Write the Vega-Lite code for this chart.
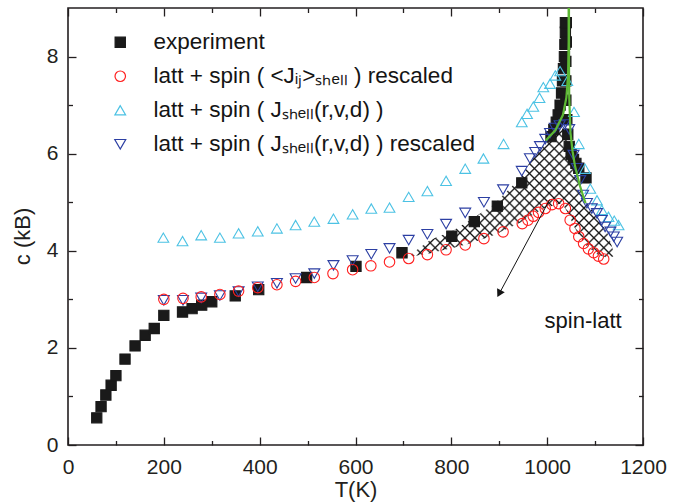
{
  "$schema": "https://vega.github.io/schema/vega-lite/v6.json",
  "width": 575,
  "height": 437,
  "autosize": {"type": "none"},
  "padding": {"left": 68, "top": 8, "right": 36, "bottom": 57},
  "background": "white",
  "datasets": {
    "hatch": [
      {"T": 705, "up": 3.85, "lo": 3.85},
      {"T": 717, "up": 3.94, "lo": 3.88},
      {"T": 756, "up": 4.22, "lo": 3.95},
      {"T": 804, "up": 4.42, "lo": 4.06},
      {"T": 839, "up": 4.63, "lo": 4.15},
      {"T": 888, "up": 4.95, "lo": 4.32},
      {"T": 944, "up": 5.5, "lo": 4.58},
      {"T": 964, "up": 5.83, "lo": 4.7},
      {"T": 992, "up": 6.17, "lo": 4.87},
      {"T": 1031, "up": 6.52, "lo": 4.98},
      {"T": 1045, "up": 6.2, "lo": 4.75},
      {"T": 1055, "up": 5.85, "lo": 4.52},
      {"T": 1069, "up": 5.38, "lo": 4.28},
      {"T": 1079, "up": 5.04, "lo": 4.13},
      {"T": 1104, "up": 4.7, "lo": 3.93},
      {"T": 1126, "up": 4.36, "lo": 3.85},
      {"T": 1138, "up": 4.0, "lo": 3.88}
    ],
    "pts": [
      {"s": "exp", "T": 60, "c": 0.56}, {"s": "exp", "T": 69, "c": 0.79}, {"s": "exp", "T": 79, "c": 1.03},
      {"s": "exp", "T": 90, "c": 1.23}, {"s": "exp", "T": 100, "c": 1.43}, {"s": "exp", "T": 119, "c": 1.77},
      {"s": "exp", "T": 140, "c": 2.04}, {"s": "exp", "T": 161, "c": 2.26}, {"s": "exp", "T": 180, "c": 2.4},
      {"s": "exp", "T": 200, "c": 2.67}, {"s": "exp", "T": 239, "c": 2.74}, {"s": "exp", "T": 259, "c": 2.81},
      {"s": "exp", "T": 279, "c": 2.88}, {"s": "exp", "T": 300, "c": 2.95}, {"s": "exp", "T": 349, "c": 3.07},
      {"s": "exp", "T": 398, "c": 3.2}, {"s": "exp", "T": 498, "c": 3.45}, {"s": "exp", "T": 601, "c": 3.68},
      {"s": "exp", "T": 697, "c": 3.96}, {"s": "exp", "T": 801, "c": 4.3}, {"s": "exp", "T": 848, "c": 4.6},
      {"s": "exp", "T": 896, "c": 4.92}, {"s": "exp", "T": 947, "c": 5.4}, {"s": "exp", "T": 1008, "c": 6.35},
      {"s": "exp", "T": 1014, "c": 6.5}, {"s": "exp", "T": 1019, "c": 6.65}, {"s": "exp", "T": 1023, "c": 6.8},
      {"s": "exp", "T": 1027, "c": 7.0}, {"s": "exp", "T": 1030, "c": 7.25}, {"s": "exp", "T": 1032, "c": 7.5},
      {"s": "exp", "T": 1034, "c": 7.75}, {"s": "exp", "T": 1036, "c": 8.0}, {"s": "exp", "T": 1037, "c": 8.25},
      {"s": "exp", "T": 1038, "c": 8.5}, {"s": "exp", "T": 1038, "c": 8.7}, {"s": "exp", "T": 1040, "c": 8.7},
      {"s": "exp", "T": 1040, "c": 8.3}, {"s": "exp", "T": 1039, "c": 7.9}, {"s": "exp", "T": 1039, "c": 7.5},
      {"s": "exp", "T": 1039, "c": 7.1}, {"s": "exp", "T": 1041, "c": 6.7}, {"s": "exp", "T": 1043, "c": 6.4},
      {"s": "exp", "T": 1046, "c": 6.15}, {"s": "exp", "T": 1050, "c": 5.98}, {"s": "exp", "T": 1055, "c": 5.88},
      {"s": "exp", "T": 1060, "c": 5.8}, {"s": "exp", "T": 1066, "c": 5.7}, {"s": "exp", "T": 1081, "c": 5.5},
      {"s": "js", "T": 199, "c": 4.27}, {"s": "js", "T": 239, "c": 4.2}, {"s": "js", "T": 278, "c": 4.32},
      {"s": "js", "T": 317, "c": 4.27}, {"s": "js", "T": 356, "c": 4.36}, {"s": "js", "T": 396, "c": 4.4},
      {"s": "js", "T": 436, "c": 4.46}, {"s": "js", "T": 475, "c": 4.53}, {"s": "js", "T": 514, "c": 4.6},
      {"s": "js", "T": 554, "c": 4.66}, {"s": "js", "T": 594, "c": 4.75}, {"s": "js", "T": 633, "c": 4.87},
      {"s": "js", "T": 671, "c": 4.89}, {"s": "js", "T": 711, "c": 5.11}, {"s": "js", "T": 750, "c": 5.23},
      {"s": "js", "T": 789, "c": 5.44}, {"s": "js", "T": 829, "c": 5.69}, {"s": "js", "T": 867, "c": 5.9},
      {"s": "js", "T": 909, "c": 6.2}, {"s": "js", "T": 947, "c": 6.65}, {"s": "js", "T": 958, "c": 6.82},
      {"s": "js", "T": 971, "c": 6.97}, {"s": "js", "T": 984, "c": 7.15}, {"s": "js", "T": 992, "c": 7.37},
      {"s": "js", "T": 1006, "c": 7.44}, {"s": "js", "T": 1017, "c": 7.61}, {"s": "js", "T": 1027, "c": 7.7},
      {"s": "js", "T": 1042, "c": 7.5}, {"s": "js", "T": 1056, "c": 6.86}, {"s": "js", "T": 1066, "c": 6.2},
      {"s": "js", "T": 1079, "c": 5.69}, {"s": "js", "T": 1090, "c": 5.28}, {"s": "js", "T": 1104, "c": 5.04},
      {"s": "js", "T": 1114, "c": 4.84}, {"s": "js", "T": 1128, "c": 4.7}, {"s": "js", "T": 1140, "c": 4.62},
      {"s": "js", "T": 1149, "c": 4.53},
      {"s": "jsr", "T": 200, "c": 2.98}, {"s": "jsr", "T": 240, "c": 2.98}, {"s": "jsr", "T": 278, "c": 3.03},
      {"s": "jsr", "T": 317, "c": 3.08}, {"s": "jsr", "T": 356, "c": 3.16}, {"s": "jsr", "T": 396, "c": 3.26},
      {"s": "jsr", "T": 436, "c": 3.33}, {"s": "jsr", "T": 475, "c": 3.43}, {"s": "jsr", "T": 514, "c": 3.53},
      {"s": "jsr", "T": 554, "c": 3.7}, {"s": "jsr", "T": 594, "c": 3.8}, {"s": "jsr", "T": 633, "c": 3.93},
      {"s": "jsr", "T": 671, "c": 4.05}, {"s": "jsr", "T": 711, "c": 4.22}, {"s": "jsr", "T": 750, "c": 4.34},
      {"s": "jsr", "T": 789, "c": 4.55}, {"s": "jsr", "T": 829, "c": 4.78}, {"s": "jsr", "T": 868, "c": 5.0},
      {"s": "jsr", "T": 908, "c": 5.26}, {"s": "jsr", "T": 947, "c": 5.64}, {"s": "jsr", "T": 964, "c": 5.9},
      {"s": "jsr", "T": 975, "c": 6.03}, {"s": "jsr", "T": 985, "c": 6.15}, {"s": "jsr", "T": 996, "c": 6.3},
      {"s": "jsr", "T": 1006, "c": 6.42}, {"s": "jsr", "T": 1016, "c": 6.53}, {"s": "jsr", "T": 1026, "c": 6.58},
      {"s": "jsr", "T": 1036, "c": 6.6}, {"s": "jsr", "T": 1046, "c": 6.5}, {"s": "jsr", "T": 1055, "c": 5.97},
      {"s": "jsr", "T": 1062, "c": 5.7}, {"s": "jsr", "T": 1069, "c": 5.45}, {"s": "jsr", "T": 1075, "c": 5.15},
      {"s": "jsr", "T": 1083, "c": 4.98}, {"s": "jsr", "T": 1093, "c": 4.87}, {"s": "jsr", "T": 1104, "c": 4.77},
      {"s": "jsr", "T": 1114, "c": 4.63}, {"s": "jsr", "T": 1121, "c": 4.49}, {"s": "jsr", "T": 1132, "c": 4.39},
      {"s": "jsr", "T": 1139, "c": 4.29}, {"s": "jsr", "T": 1146, "c": 4.18},
      {"s": "jij", "T": 200, "c": 3.0}, {"s": "jij", "T": 240, "c": 3.02}, {"s": "jij", "T": 278, "c": 3.05},
      {"s": "jij", "T": 317, "c": 3.1}, {"s": "jij", "T": 356, "c": 3.17}, {"s": "jij", "T": 396, "c": 3.24},
      {"s": "jij", "T": 436, "c": 3.3}, {"s": "jij", "T": 475, "c": 3.37}, {"s": "jij", "T": 514, "c": 3.45},
      {"s": "jij", "T": 553, "c": 3.53}, {"s": "jij", "T": 594, "c": 3.61}, {"s": "jij", "T": 632, "c": 3.69},
      {"s": "jij", "T": 671, "c": 3.77}, {"s": "jij", "T": 711, "c": 3.84}, {"s": "jij", "T": 750, "c": 3.92},
      {"s": "jij", "T": 789, "c": 4.02}, {"s": "jij", "T": 829, "c": 4.12}, {"s": "jij", "T": 868, "c": 4.25},
      {"s": "jij", "T": 908, "c": 4.39}, {"s": "jij", "T": 948, "c": 4.56}, {"s": "jij", "T": 960, "c": 4.63},
      {"s": "jij", "T": 971, "c": 4.71}, {"s": "jij", "T": 982, "c": 4.79}, {"s": "jij", "T": 996, "c": 4.87},
      {"s": "jij", "T": 1010, "c": 4.95}, {"s": "jij", "T": 1024, "c": 4.97}, {"s": "jij", "T": 1038, "c": 4.87},
      {"s": "jij", "T": 1048, "c": 4.63}, {"s": "jij", "T": 1058, "c": 4.46}, {"s": "jij", "T": 1066, "c": 4.29},
      {"s": "jij", "T": 1076, "c": 4.15}, {"s": "jij", "T": 1086, "c": 4.04}, {"s": "jij", "T": 1097, "c": 3.96},
      {"s": "jij", "T": 1107, "c": 3.89}, {"s": "jij", "T": 1118, "c": 3.83}
    ],
    "fit": [
      {"b": "low", "i": 0, "T": 997, "c": 6.27}, {"b": "low", "i": 1, "T": 1017, "c": 6.48},
      {"b": "low", "i": 2, "T": 1033, "c": 6.8}, {"b": "low", "i": 3, "T": 1040, "c": 7.15},
      {"b": "low", "i": 4, "T": 1043.5, "c": 7.6}, {"b": "low", "i": 5, "T": 1045, "c": 8.3},
      {"b": "low", "i": 6, "T": 1045, "c": 9.0},
      {"b": "high", "i": 0, "T": 1045.5, "c": 9.0}, {"b": "high", "i": 1, "T": 1045.5, "c": 8.0},
      {"b": "high", "i": 2, "T": 1046, "c": 7.2}, {"b": "high", "i": 3, "T": 1048.5, "c": 6.45},
      {"b": "high", "i": 4, "T": 1053, "c": 6.05}, {"b": "high", "i": 5, "T": 1058, "c": 5.75},
      {"b": "high", "i": 6, "T": 1068, "c": 5.35}, {"b": "high", "i": 7, "T": 1080, "c": 4.98}
    ],
    "arrow": [{"i": 0, "T": 1005, "c": 5.05}, {"i": 1, "T": 898, "c": 3.08}],
    "head": [{"T": 901, "c": 3.14}],
    "note": [{"T": 1075, "c": 2.55, "label": "spin-latt"}]
  },
  "layer": [
    {
      "data": {"name": "hatch"},
      "mark": {
        "type": "area",
        "interpolate": "linear",
        "fill": {
          "gradient": "linear", "x1": 0, "y1": 0, "x2": 1.1683, "y2": 0.7311,
          "stops": [
            {"offset": 0.024, "color": "rgba(20,20,20,0)"}, {"offset": 0.0294, "color": "#141414"}, {"offset": 0.0348, "color": "rgba(20,20,20,0)"},
            {"offset": 0.0534, "color": "rgba(20,20,20,0)"}, {"offset": 0.0588, "color": "#141414"}, {"offset": 0.0642, "color": "rgba(20,20,20,0)"},
            {"offset": 0.0828, "color": "rgba(20,20,20,0)"}, {"offset": 0.0882, "color": "#141414"}, {"offset": 0.0936, "color": "rgba(20,20,20,0)"},
            {"offset": 0.1122, "color": "rgba(20,20,20,0)"}, {"offset": 0.1176, "color": "#141414"}, {"offset": 0.123, "color": "rgba(20,20,20,0)"},
            {"offset": 0.1416, "color": "rgba(20,20,20,0)"}, {"offset": 0.147, "color": "#141414"}, {"offset": 0.1524, "color": "rgba(20,20,20,0)"},
            {"offset": 0.171, "color": "rgba(20,20,20,0)"}, {"offset": 0.1764, "color": "#141414"}, {"offset": 0.1818, "color": "rgba(20,20,20,0)"},
            {"offset": 0.2004, "color": "rgba(20,20,20,0)"}, {"offset": 0.2058, "color": "#141414"}, {"offset": 0.2112, "color": "rgba(20,20,20,0)"},
            {"offset": 0.2299, "color": "rgba(20,20,20,0)"}, {"offset": 0.2353, "color": "#141414"}, {"offset": 0.2407, "color": "rgba(20,20,20,0)"},
            {"offset": 0.2593, "color": "rgba(20,20,20,0)"}, {"offset": 0.2647, "color": "#141414"}, {"offset": 0.2701, "color": "rgba(20,20,20,0)"},
            {"offset": 0.2887, "color": "rgba(20,20,20,0)"}, {"offset": 0.2941, "color": "#141414"}, {"offset": 0.2995, "color": "rgba(20,20,20,0)"},
            {"offset": 0.3181, "color": "rgba(20,20,20,0)"}, {"offset": 0.3235, "color": "#141414"}, {"offset": 0.3289, "color": "rgba(20,20,20,0)"},
            {"offset": 0.3475, "color": "rgba(20,20,20,0)"}, {"offset": 0.3529, "color": "#141414"}, {"offset": 0.3583, "color": "rgba(20,20,20,0)"},
            {"offset": 0.3769, "color": "rgba(20,20,20,0)"}, {"offset": 0.3823, "color": "#141414"}, {"offset": 0.3877, "color": "rgba(20,20,20,0)"},
            {"offset": 0.4063, "color": "rgba(20,20,20,0)"}, {"offset": 0.4117, "color": "#141414"}, {"offset": 0.4171, "color": "rgba(20,20,20,0)"},
            {"offset": 0.4357, "color": "rgba(20,20,20,0)"}, {"offset": 0.4411, "color": "#141414"}, {"offset": 0.4465, "color": "rgba(20,20,20,0)"},
            {"offset": 0.4652, "color": "rgba(20,20,20,0)"}, {"offset": 0.4706, "color": "#141414"}, {"offset": 0.476, "color": "rgba(20,20,20,0)"},
            {"offset": 0.4946, "color": "rgba(20,20,20,0)"}, {"offset": 0.5, "color": "#141414"}, {"offset": 0.5054, "color": "rgba(20,20,20,0)"},
            {"offset": 0.524, "color": "rgba(20,20,20,0)"}, {"offset": 0.5294, "color": "#141414"}, {"offset": 0.5348, "color": "rgba(20,20,20,0)"},
            {"offset": 0.5534, "color": "rgba(20,20,20,0)"}, {"offset": 0.5588, "color": "#141414"}, {"offset": 0.5642, "color": "rgba(20,20,20,0)"},
            {"offset": 0.5828, "color": "rgba(20,20,20,0)"}, {"offset": 0.5882, "color": "#141414"}, {"offset": 0.5936, "color": "rgba(20,20,20,0)"},
            {"offset": 0.6122, "color": "rgba(20,20,20,0)"}, {"offset": 0.6176, "color": "#141414"}, {"offset": 0.623, "color": "rgba(20,20,20,0)"},
            {"offset": 0.6416, "color": "rgba(20,20,20,0)"}, {"offset": 0.647, "color": "#141414"}, {"offset": 0.6524, "color": "rgba(20,20,20,0)"},
            {"offset": 0.671, "color": "rgba(20,20,20,0)"}, {"offset": 0.6764, "color": "#141414"}, {"offset": 0.6818, "color": "rgba(20,20,20,0)"},
            {"offset": 0.7004, "color": "rgba(20,20,20,0)"}, {"offset": 0.7058, "color": "#141414"}, {"offset": 0.7112, "color": "rgba(20,20,20,0)"},
            {"offset": 0.7299, "color": "rgba(20,20,20,0)"}, {"offset": 0.7353, "color": "#141414"}, {"offset": 0.7407, "color": "rgba(20,20,20,0)"},
            {"offset": 0.7593, "color": "rgba(20,20,20,0)"}, {"offset": 0.7647, "color": "#141414"}, {"offset": 0.7701, "color": "rgba(20,20,20,0)"},
            {"offset": 0.7887, "color": "rgba(20,20,20,0)"}, {"offset": 0.7941, "color": "#141414"}, {"offset": 0.7995, "color": "rgba(20,20,20,0)"},
            {"offset": 0.8181, "color": "rgba(20,20,20,0)"}, {"offset": 0.8235, "color": "#141414"}, {"offset": 0.8289, "color": "rgba(20,20,20,0)"},
            {"offset": 0.8475, "color": "rgba(20,20,20,0)"}, {"offset": 0.8529, "color": "#141414"}, {"offset": 0.8583, "color": "rgba(20,20,20,0)"},
            {"offset": 0.8769, "color": "rgba(20,20,20,0)"}, {"offset": 0.8823, "color": "#141414"}, {"offset": 0.8877, "color": "rgba(20,20,20,0)"},
            {"offset": 0.9063, "color": "rgba(20,20,20,0)"}, {"offset": 0.9117, "color": "#141414"}, {"offset": 0.9171, "color": "rgba(20,20,20,0)"},
            {"offset": 0.9357, "color": "rgba(20,20,20,0)"}, {"offset": 0.9411, "color": "#141414"}, {"offset": 0.9465, "color": "rgba(20,20,20,0)"},
            {"offset": 0.9652, "color": "rgba(20,20,20,0)"}, {"offset": 0.9706, "color": "#141414"}, {"offset": 0.976, "color": "rgba(20,20,20,0)"}
          ]
        }
      },
      "encoding": {
        "x": {"field": "T", "type": "quantitative", "scale": {"domain": [0, 1200], "nice": false, "zero": false},
          "axis": {"orient": "bottom", "values": [0, 200, 400, 600, 800, 1000, 1200], "format": "d", "tickSize": -8, "labelPadding": 19, "labelFlush": false, "labelOverlap": false, "title": "T(K)", "titleBaseline": "middle", "titleY": 44}},
        "y": {"field": "up", "type": "quantitative", "scale": {"domain": [0, 9], "nice": false, "zero": false},
          "axis": {"orient": "left", "values": [0, 2, 4, 6, 8], "format": "d", "tickSize": -8, "labelPadding": 18, "labelFlush": false, "labelOverlap": false, "title": "c (kB)", "titleAngle": -90, "titleAlign": "center", "titleBaseline": "middle", "titleX": -46, "titleY": 228}},
        "y2": {"field": "lo"}
      }
    },
    {
      "data": {"name": "hatch"},
      "mark": {
        "type": "area",
        "interpolate": "linear",
        "fill": {
          "gradient": "linear", "x1": 0, "y1": 1, "x2": 1.1683, "y2": 0.2689,
          "stops": [
            {"offset": 0.024, "color": "rgba(20,20,20,0)"}, {"offset": 0.0294, "color": "#141414"}, {"offset": 0.0348, "color": "rgba(20,20,20,0)"},
            {"offset": 0.0534, "color": "rgba(20,20,20,0)"}, {"offset": 0.0588, "color": "#141414"}, {"offset": 0.0642, "color": "rgba(20,20,20,0)"},
            {"offset": 0.0828, "color": "rgba(20,20,20,0)"}, {"offset": 0.0882, "color": "#141414"}, {"offset": 0.0936, "color": "rgba(20,20,20,0)"},
            {"offset": 0.1122, "color": "rgba(20,20,20,0)"}, {"offset": 0.1176, "color": "#141414"}, {"offset": 0.123, "color": "rgba(20,20,20,0)"},
            {"offset": 0.1416, "color": "rgba(20,20,20,0)"}, {"offset": 0.147, "color": "#141414"}, {"offset": 0.1524, "color": "rgba(20,20,20,0)"},
            {"offset": 0.171, "color": "rgba(20,20,20,0)"}, {"offset": 0.1764, "color": "#141414"}, {"offset": 0.1818, "color": "rgba(20,20,20,0)"},
            {"offset": 0.2004, "color": "rgba(20,20,20,0)"}, {"offset": 0.2058, "color": "#141414"}, {"offset": 0.2112, "color": "rgba(20,20,20,0)"},
            {"offset": 0.2299, "color": "rgba(20,20,20,0)"}, {"offset": 0.2353, "color": "#141414"}, {"offset": 0.2407, "color": "rgba(20,20,20,0)"},
            {"offset": 0.2593, "color": "rgba(20,20,20,0)"}, {"offset": 0.2647, "color": "#141414"}, {"offset": 0.2701, "color": "rgba(20,20,20,0)"},
            {"offset": 0.2887, "color": "rgba(20,20,20,0)"}, {"offset": 0.2941, "color": "#141414"}, {"offset": 0.2995, "color": "rgba(20,20,20,0)"},
            {"offset": 0.3181, "color": "rgba(20,20,20,0)"}, {"offset": 0.3235, "color": "#141414"}, {"offset": 0.3289, "color": "rgba(20,20,20,0)"},
            {"offset": 0.3475, "color": "rgba(20,20,20,0)"}, {"offset": 0.3529, "color": "#141414"}, {"offset": 0.3583, "color": "rgba(20,20,20,0)"},
            {"offset": 0.3769, "color": "rgba(20,20,20,0)"}, {"offset": 0.3823, "color": "#141414"}, {"offset": 0.3877, "color": "rgba(20,20,20,0)"},
            {"offset": 0.4063, "color": "rgba(20,20,20,0)"}, {"offset": 0.4117, "color": "#141414"}, {"offset": 0.4171, "color": "rgba(20,20,20,0)"},
            {"offset": 0.4357, "color": "rgba(20,20,20,0)"}, {"offset": 0.4411, "color": "#141414"}, {"offset": 0.4465, "color": "rgba(20,20,20,0)"},
            {"offset": 0.4652, "color": "rgba(20,20,20,0)"}, {"offset": 0.4706, "color": "#141414"}, {"offset": 0.476, "color": "rgba(20,20,20,0)"},
            {"offset": 0.4946, "color": "rgba(20,20,20,0)"}, {"offset": 0.5, "color": "#141414"}, {"offset": 0.5054, "color": "rgba(20,20,20,0)"},
            {"offset": 0.524, "color": "rgba(20,20,20,0)"}, {"offset": 0.5294, "color": "#141414"}, {"offset": 0.5348, "color": "rgba(20,20,20,0)"},
            {"offset": 0.5534, "color": "rgba(20,20,20,0)"}, {"offset": 0.5588, "color": "#141414"}, {"offset": 0.5642, "color": "rgba(20,20,20,0)"},
            {"offset": 0.5828, "color": "rgba(20,20,20,0)"}, {"offset": 0.5882, "color": "#141414"}, {"offset": 0.5936, "color": "rgba(20,20,20,0)"},
            {"offset": 0.6122, "color": "rgba(20,20,20,0)"}, {"offset": 0.6176, "color": "#141414"}, {"offset": 0.623, "color": "rgba(20,20,20,0)"},
            {"offset": 0.6416, "color": "rgba(20,20,20,0)"}, {"offset": 0.647, "color": "#141414"}, {"offset": 0.6524, "color": "rgba(20,20,20,0)"},
            {"offset": 0.671, "color": "rgba(20,20,20,0)"}, {"offset": 0.6764, "color": "#141414"}, {"offset": 0.6818, "color": "rgba(20,20,20,0)"},
            {"offset": 0.7004, "color": "rgba(20,20,20,0)"}, {"offset": 0.7058, "color": "#141414"}, {"offset": 0.7112, "color": "rgba(20,20,20,0)"},
            {"offset": 0.7299, "color": "rgba(20,20,20,0)"}, {"offset": 0.7353, "color": "#141414"}, {"offset": 0.7407, "color": "rgba(20,20,20,0)"},
            {"offset": 0.7593, "color": "rgba(20,20,20,0)"}, {"offset": 0.7647, "color": "#141414"}, {"offset": 0.7701, "color": "rgba(20,20,20,0)"},
            {"offset": 0.7887, "color": "rgba(20,20,20,0)"}, {"offset": 0.7941, "color": "#141414"}, {"offset": 0.7995, "color": "rgba(20,20,20,0)"},
            {"offset": 0.8181, "color": "rgba(20,20,20,0)"}, {"offset": 0.8235, "color": "#141414"}, {"offset": 0.8289, "color": "rgba(20,20,20,0)"},
            {"offset": 0.8475, "color": "rgba(20,20,20,0)"}, {"offset": 0.8529, "color": "#141414"}, {"offset": 0.8583, "color": "rgba(20,20,20,0)"},
            {"offset": 0.8769, "color": "rgba(20,20,20,0)"}, {"offset": 0.8823, "color": "#141414"}, {"offset": 0.8877, "color": "rgba(20,20,20,0)"},
            {"offset": 0.9063, "color": "rgba(20,20,20,0)"}, {"offset": 0.9117, "color": "#141414"}, {"offset": 0.9171, "color": "rgba(20,20,20,0)"},
            {"offset": 0.9357, "color": "rgba(20,20,20,0)"}, {"offset": 0.9411, "color": "#141414"}, {"offset": 0.9465, "color": "rgba(20,20,20,0)"},
            {"offset": 0.9652, "color": "rgba(20,20,20,0)"}, {"offset": 0.9706, "color": "#141414"}, {"offset": 0.976, "color": "rgba(20,20,20,0)"}
          ]
        }
      },
      "encoding": {
        "x": {"field": "T", "type": "quantitative", "scale": {"domain": [0, 1200], "nice": false, "zero": false},
          "axis": {"orient": "bottom", "values": [100, 300, 500, 700, 900, 1100], "tickSize": -4.5, "labels": false, "title": null}},
        "y": {"field": "up", "type": "quantitative", "scale": {"domain": [0, 9], "nice": false, "zero": false},
          "axis": {"orient": "left", "values": [1, 3, 5, 7], "tickSize": -4.5, "labels": false, "title": null}},
        "y2": {"field": "lo"}
      }
    },
    {
      "data": {"name": "pts"},
      "mark": {"type": "point", "strokeWidth": 1.1, "opacity": 1},
      "encoding": {
        "x": {"field": "T", "type": "quantitative", "scale": {"domain": [0, 1200], "nice": false, "zero": false},
          "axis": {"orient": "top", "values": [0, 200, 400, 600, 800, 1000, 1200], "tickSize": -8, "labels": false, "title": null}},
        "y": {"field": "c", "type": "quantitative", "scale": {"domain": [0, 9], "nice": false, "zero": false},
          "axis": {"orient": "right", "values": [0, 2, 4, 6, 8], "tickSize": -8, "labels": false, "title": null}},
        "shape": {"field": "s", "type": "nominal",
          "scale": {"domain": ["exp", "jij", "js", "jsr"], "range": ["square", "circle", "triangle-up", "triangle-down"]},
          "legend": {"title": null, "orient": "none", "legendX": 41, "legendY": 23, "direction": "vertical", "padding": 0, "symbolStrokeWidth": 1.2, "labelOffset": 22, "rowPadding": 11, "labelFontSize": 22.5, "labelFont": "Liberation Sans", "labelColor": "#141414", "labelLimit": 600,
            "labelExpr": "datum.value=='exp'?'experiment':datum.value=='jij'?'latt + spin ( <Jᵢⱼ>ₛₕₑₗₗ ) rescaled':datum.value=='js'?'latt + spin ( Jₛₕₑₗₗ(r,v,d) )':'latt + spin ( Jₛₕₑₗₗ(r,v,d) ) rescaled'"}},
        "fill": {"field": "s", "type": "nominal",
          "scale": {"domain": ["exp", "jij", "js", "jsr"], "range": ["#1a1a1a", "rgba(255,255,255,0)", "rgba(255,255,255,0)", "rgba(255,255,255,0)"]}},
        "stroke": {"field": "s", "type": "nominal",
          "scale": {"domain": ["exp", "jij", "js", "jsr"], "range": ["#1a1a1a", "#ff1f1f", "#4cc2e4", "#2c3fa3"]}},
        "size": {"field": "s", "type": "nominal",
          "scale": {"domain": ["exp", "jij", "js", "jsr"], "range": [105, 120, 160, 160]}}
      }
    },
    {
      "data": {"name": "fit"},
      "mark": {"type": "line", "color": "#5cb833", "strokeWidth": 2.2, "clip": true},
      "encoding": {
        "x": {"field": "T", "type": "quantitative", "scale": {"domain": [0, 1200], "nice": false, "zero": false},
          "axis": {"orient": "top", "values": [100, 300, 500, 700, 900, 1100], "tickSize": -4.5, "labels": false, "title": null}},
        "y": {"field": "c", "type": "quantitative", "scale": {"domain": [0, 9], "nice": false, "zero": false},
          "axis": {"orient": "right", "values": [1, 3, 5, 7], "tickSize": -4.5, "labels": false, "title": null}},
        "detail": {"field": "b", "type": "nominal"},
        "order": {"field": "i", "type": "quantitative"}
      }
    },
    {
      "data": {"name": "arrow"},
      "mark": {"type": "line", "color": "#141414", "strokeWidth": 1},
      "encoding": {
        "x": {"field": "T", "type": "quantitative", "axis": null},
        "y": {"field": "c", "type": "quantitative", "axis": null},
        "order": {"field": "i", "type": "quantitative"}
      }
    },
    {
      "data": {"name": "head"},
      "mark": {"type": "point", "shape": "triangle", "filled": true, "color": "#141414", "size": 75, "angle": 208, "opacity": 1},
      "encoding": {
        "x": {"field": "T", "type": "quantitative", "axis": null},
        "y": {"field": "c", "type": "quantitative", "axis": null}
      }
    },
    {
      "data": {"name": "note"},
      "mark": {"type": "text", "font": "Liberation Sans", "fontSize": 22, "color": "#141414", "align": "center", "baseline": "middle"},
      "encoding": {
        "x": {"field": "T", "type": "quantitative", "axis": null},
        "y": {"field": "c", "type": "quantitative", "axis": null},
        "text": {"field": "label", "type": "nominal"}
      }
    }
  ],
  "resolve": {"axis": {"x": "independent", "y": "independent"}},
  "config": {
    "view": {"stroke": "#231f20", "strokeWidth": 1.6},
    "axis": {
      "domain": false, "grid": false,
      "labelFont": "Liberation Sans", "labelFontSize": 21, "labelColor": "#231f20",
      "titleFont": "Liberation Sans", "titleFontSize": 22, "titleFontWeight": "normal", "titleColor": "#231f20",
      "tickColor": "#231f20", "tickWidth": 1.3
    }
  }
}
